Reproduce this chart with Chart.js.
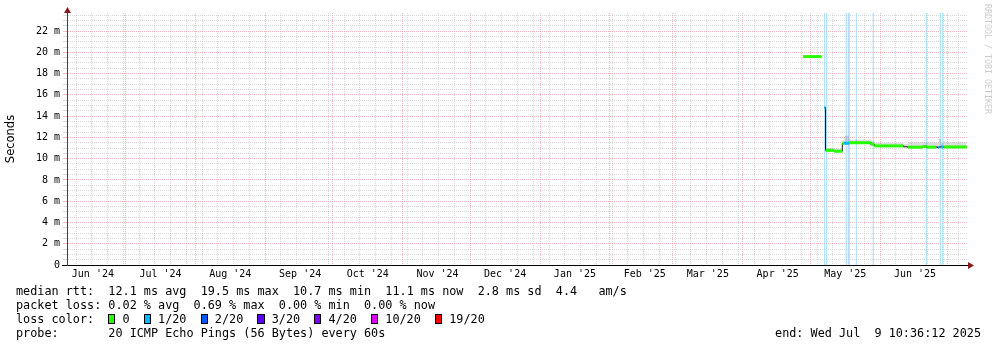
<!DOCTYPE html>
<html>
<head>
<meta charset="utf-8">
<script src="https://cdn.jsdelivr.net/npm/chart.js@4.4.1/dist/chart.umd.min.js"></script>
<style>
  html, body { margin: 0; padding: 0; background: #fff; }
  #wrap { position: relative; width: 997px; height: 347px; overflow: hidden; }
  #chart { position: absolute; left: 0; top: 0; }
  .legend { position: absolute; left: 16px; top: 284px; font: 11.8px "DejaVu Sans Mono", monospace; line-height: 14px; white-space: pre; color: #000; }
  .box { display: inline-block; width: 1ch; height: 10px; box-sizing: border-box; border: 1px solid #000; vertical-align: -1px; }
  .end { position: absolute; right: 16px; top: 326px; font: 11.8px "DejaVu Sans Mono", monospace; line-height: 14px; white-space: pre; color: #000; }
  .mark { position: absolute; left: 983px; top: 4px; writing-mode: vertical-rl; font: 8.3px "DejaVu Sans Mono", monospace; color: #cccccc; white-space: pre; }
</style>
</head>
<body>
<div id="wrap">
  <canvas id="chart" width="997" height="347"></canvas>
  <div class="mark">RRDTOOL / TOBI OETIKER</div>
  <div class="legend">median rtt:  12.1 ms avg  19.5 ms max  10.7 ms min  11.1 ms now  2.8 ms sd  4.4   am/s
packet loss: 0.02 % avg  0.69 % max  0.00 % min  0.00 % now
loss color:  <span class="box" style="background:#26ff00"></span> 0  <span class="box" style="background:#00b8ff"></span> 1/20  <span class="box" style="background:#0059ff"></span> 2/20  <span class="box" style="background:#5e00ff"></span> 3/20  <span class="box" style="background:#7e00ff"></span> 4/20  <span class="box" style="background:#dd00ff"></span> 10/20  <span class="box" style="background:#ff0000"></span> 19/20
probe:       20 ICMP Echo Pings (56 Bytes) every 60s</div>
  <div class="end">end: Wed Jul  9 10:36:12 2025</div>
</div>
<script>
// x axis: month labels starting Jun 2024, y axis in ms
const monthLabels = ["Jun '24", "Jul '24", "Aug '24", "Sep '24", "Oct '24", "Nov '24", "Dec '24",
                     "Jan '25", "Feb '25", "Mar '25", "Apr '25", "May '25", "Jun '25"];
const yTicks = [0, 2, 4, 6, 8, 10, 12, 14, 16, 18, 20, 22];
const yMax = 23.7;

// median rtt runs (ms), loss per run (pings lost of 20, null = no colour)
const runStart = ['2025-04-27T19:00', '2025-05-07T06:00', '2025-05-07T18:00', '2025-05-11T12:00',
                  '2025-05-15T05:00', '2025-05-16T00:00', '2025-05-18T05:00', '2025-05-27T22:00',
                  '2025-05-29T10:00', '2025-06-11T07:00', '2025-06-13T05:00', '2025-06-19T22:00',
                  '2025-06-21T14:00', '2025-06-25T19:00', '2025-06-26T14:00', '2025-06-27T00:00',
                  '2025-06-28T00:00', '2025-06-29T00:00', '2025-06-29T12:00'];
const runEnd   = ['2025-05-05T23:00', '2025-05-07T18:00', '2025-05-11T12:00', '2025-05-15T05:00',
                  '2025-05-16T00:00', '2025-05-18T05:00', '2025-05-27T22:00', '2025-05-29T10:00',
                  '2025-06-11T07:00', '2025-06-13T05:00', '2025-06-19T22:00', '2025-06-21T14:00',
                  '2025-06-25T19:00', '2025-06-26T14:00', '2025-06-27T00:00', '2025-06-28T00:00',
                  '2025-06-29T00:00', '2025-06-29T12:00', '2025-07-09T10:00'];
const runValue = [19.6, 14.8, 10.78, 10.7, 11.45, 11.45, 11.5, 11.35, 11.2, 11.12, 11.08, 11.15,
                  11.08, 11.1, 11.05, 11.1, 11.1, 11.1, 11.1];
const runLoss  = [0, 1, 0, 0, 0, 1, 0, 0, 0, null, 0, 0, 0, null, 1, null, 1, null, 0];
const smokeHi  = [19.75, null, 11.0, 10.95, 11.75, 12.15, 11.8, 11.65, 11.5, 11.4, 11.55, 11.6,
                  11.55, 11.5, 11.5, 11.85, 11.55, 11.5, 11.55];
const smokeLo  = [19.5, null, 10.7, 10.62, 11.38, 11.38, 11.42, 11.28, 11.12, 11.05, 11.0, 11.05,
                  11.0, 11.02, 11.0, 11.02, 11.02, 11.02, 11.02];

// rows with packet loss (light vertical lines)
const lossLineTimes = ['2025-05-07T10:00', '2025-05-08T07:00', '2025-05-16T22:00', '2025-05-17T19:00',
                       '2025-05-18T07:00', '2025-05-21T10:00', '2025-05-28T22:00', '2025-06-21T12:00',
                       '2025-06-27T17:00', '2025-06-28T19:00'];

const lossColors = {0: '#26ff00', 1: '#00b8ff', 2: '#0059ff', 3: '#5e00ff', 4: '#7e00ff', 10: '#dd00ff', 19: '#ff0000'};
const majorGrid = 'rgba(232,136,136,0.6)';
const minorGrid = 'rgba(185,185,185,0.55)';

const DAY = 864e5;
const T = s => Date.parse(s + ':00Z');
const xMin = Date.UTC(2024, 5, 5);
const xMax = xMin + 400 * DAY;

// x ticks: month starts (red), Sundays (gray), mid-month labels
const xTicks = [];
monthLabels.forEach((lab, i) => {
  const start = Date.UTC(2024, 5 + i, 1);
  if (start > xMin) xTicks.push({value: start, kind: 'month'});
  xTicks.push({value: start + 15.5 * DAY, kind: 'label', text: lab});
});
xTicks.push({value: Date.UTC(2025, 6, 1), kind: 'month'});
for (let t = Date.UTC(2024, 5, 9); t < xMax; t += 7 * DAY) {
  if (new Date(t).getUTCDate() !== 1) xTicks.push({value: t, kind: 'week'});
}
xTicks.sort((a, b) => a.value - b.value);

// build line data from the runs
const blackPts = [], colorPts = [], hiPts = [], loPts = [];
runStart.forEach((s, i) => {
  const a = T(s), b = T(runEnd[i]), v = runValue[i];
  const gap = i === runStart.length - 1 || T(runStart[i + 1]) - b > 3600e3;
  blackPts.push({x: a, y: v}, {x: b, y: v});
  if (gap) blackPts.push({x: b, y: null});
  if (runLoss[i] !== null) {
    colorPts.push({x: a, y: v, loss: runLoss[i]}, {x: b, y: v, loss: runLoss[i]}, {x: b, y: null, loss: 0});
  }
  if (smokeHi[i] !== null) {
    hiPts.push({x: a, y: smokeHi[i]}, {x: b, y: smokeHi[i]});
    loPts.push({x: a, y: smokeLo[i]}, {x: b, y: smokeLo[i]});
    if (gap || smokeHi[i + 1] === null) {
      hiPts.push({x: b, y: null});
      loPts.push({x: b, y: null});
    }
  }
});
const lossPts = [];
lossLineTimes.forEach(s => {
  const t = T(s);
  lossPts.push({x: t, y: 0}, {x: t, y: yMax}, {x: t, y: null});
});

const arrows = {
  id: 'arrows',
  afterDraw(chart) {
    const {ctx, chartArea: {left, right, top, bottom}} = chart;
    ctx.save();
    ctx.strokeStyle = '#000';
    ctx.lineWidth = 1;
    ctx.beginPath();
    ctx.moveTo(left - 5, bottom + 0.5);
    ctx.lineTo(left, bottom + 0.5);
    ctx.stroke();
    ctx.fillStyle = '#8b1a1a';
    ctx.beginPath();
    ctx.moveTo(left + 0.5, top - 6);
    ctx.lineTo(left - 3, top);
    ctx.lineTo(left + 4, top);
    ctx.closePath();
    ctx.fill();
    ctx.beginPath();
    ctx.moveTo(right + 6, bottom + 0.5);
    ctx.lineTo(right, bottom - 3);
    ctx.lineTo(right, bottom + 4);
    ctx.closePath();
    ctx.fill();
    ctx.restore();
  }
};

const monoFont = {family: 'DejaVu Sans Mono', size: 10};

new Chart(document.getElementById('chart'), {
  type: 'line',
  data: {
    datasets: [
      {data: lossPts, borderColor: '#a3dcf5', borderWidth: 1, pointRadius: 0, spanGaps: false, order: 5},
      {data: hiPts, borderWidth: 0, pointRadius: 0, spanGaps: false, fill: '+1',
       backgroundColor: 'rgba(0,0,0,0.13)', borderColor: 'transparent', order: 4},
      {data: loPts, borderWidth: 0, pointRadius: 0, spanGaps: false, borderColor: 'transparent', order: 4},
      {data: blackPts, borderColor: '#1a1a1a', borderWidth: 1, pointRadius: 0, spanGaps: false, order: 3},
      {data: colorPts, borderWidth: 3, pointRadius: 0, spanGaps: false, borderCapStyle: 'butt', order: 1,
       borderColor: lossColors[0],
       segment: {borderColor: c => lossColors[colorPts[c.p0DataIndex].loss]}}
    ]
  },
  options: {
    responsive: false,
    animation: false,
    devicePixelRatio: 1,
    layout: {padding: {left: 0, right: 29, top: 13, bottom: 0}},
    plugins: {legend: {display: false}, tooltip: {enabled: false}},
    scales: {
      x: {
        type: 'linear',
        min: xMin,
        max: xMax,
        afterBuildTicks: s => { s.ticks = xTicks.map(t => ({...t})); },
        afterFit: s => { s.height = 82; },
        ticks: {autoSkip: false, maxRotation: 0, minRotation: 0, padding: 3, color: '#000', font: monoFont,
                callback: (v, i, ticks) => ticks[i].text || ''},
        grid: {color: c => c.tick && c.tick.kind === 'month' ? majorGrid : (c.tick && c.tick.kind === 'week' ? minorGrid : 'transparent'),
               drawTicks: false, lineWidth: 1},
        border: {color: '#000', dash: [1, 1]}
      },
      y: {
        min: 0,
        max: yMax,
        afterBuildTicks: s => {
          const t = [];
          for (let v = 0; v <= yMax; v += 0.5) t.push({value: v});
          s.ticks = t;
        },
        afterFit: s => { s.width = 67; },
        ticks: {autoSkip: false, padding: 3, color: '#000', font: monoFont,
                callback: v => yTicks.includes(v) ? (v === 0 ? '0' : v + ' m') : ''},
        grid: {color: c => !c.tick || c.tick.value === 0 ? 'transparent' : (yTicks.includes(c.tick.value) ? majorGrid : minorGrid),
               tickLength: 4, lineWidth: 1},
        border: {color: '#444', dash: [1, 1]},
        title: {display: true, text: 'Seconds', color: '#000', font: {family: 'DejaVu Sans', size: 11.5}, padding: {top: 4, bottom: 0}}
      }
    }
  },
  plugins: [arrows]
});
</script>
</body>
</html>
